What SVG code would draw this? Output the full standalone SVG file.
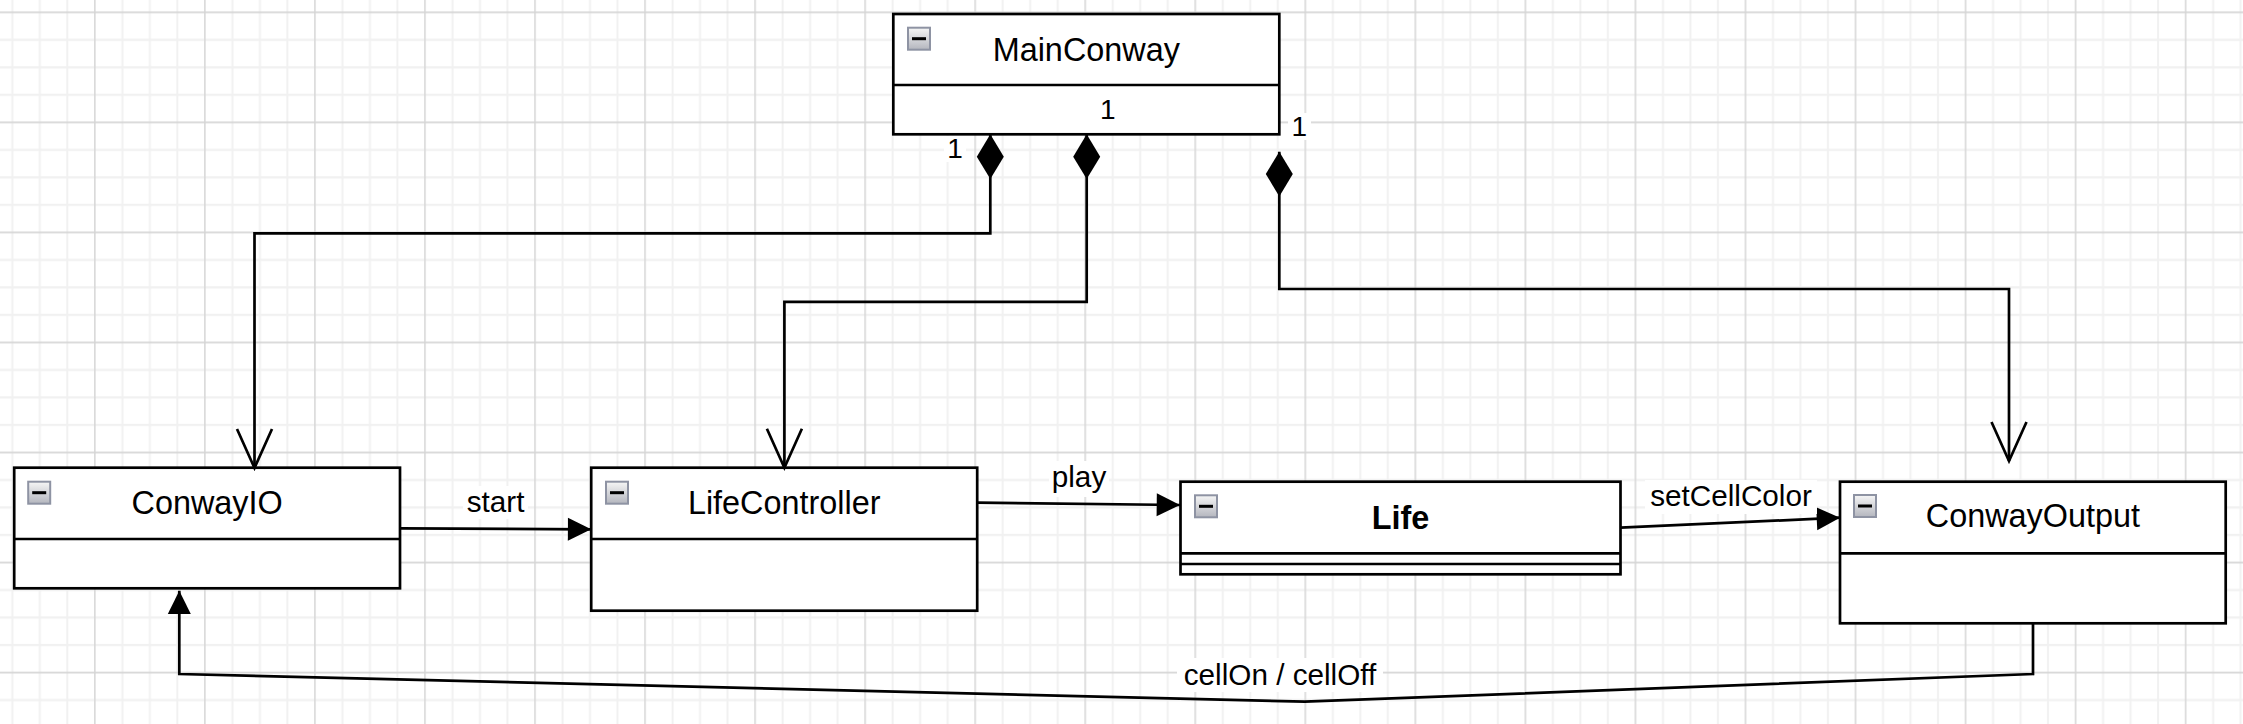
<svg xmlns="http://www.w3.org/2000/svg" width="2243" height="724" viewBox="0 0 2243 724">
<style>
.box{fill:#ffffff;stroke:#000000;stroke-width:2.7}
.div{stroke:#000000;stroke-width:2.7;fill:none}
.title{font-family:"Liberation Sans",Arial,Helvetica,sans-serif;font-size:32.4px;fill:#000000;text-anchor:middle}
.bold{font-weight:bold}
.lbl{font-family:"Liberation Sans",Arial,Helvetica,sans-serif;font-size:29.7px;fill:#000000;text-anchor:middle}
.mult{font-family:"Liberation Sans",Arial,Helvetica,sans-serif;font-size:28px;fill:#000000;text-anchor:middle}
.conn{fill:none;stroke:#000000;stroke-width:2.7}
.lblbg{fill:#ffffff}
</style>
<defs>
<pattern id="grid" patternUnits="userSpaceOnUse" x="81.105" y="-1.455" width="110.04" height="110.04">
<path d="M41.265 0V110.04M68.775 0V110.04M96.285 0V110.04M0 41.265H110.04M0 68.775H110.04M0 96.285H110.04" stroke="#f1f1f1" stroke-width="2"/>
<path d="M13.755 0V110.04M0 13.755H110.04" stroke="#d6d6d6" stroke-width="1.5"/>
</pattern>
<linearGradient id="iconGrad" x1="0" y1="0" x2="0" y2="1">
<stop offset="0" stop-color="#f6f6f6"/>
<stop offset="1" stop-color="#b4b6be"/>
</linearGradient>
<g id="icon">
<rect x="1" y="1" width="22" height="22" fill="url(#iconGrad)" stroke="#8e93a3" stroke-width="2"/>
<rect x="5" y="10.5" width="14" height="3" fill="#000000"/>
</g>
<marker id="diamond" markerUnits="userSpaceOnUse" orient="auto" refX="0" refY="13.5" markerWidth="46" markerHeight="27" overflow="visible">
<path d="M0 13.5 L22.35 0 L44.7 13.5 L22.35 27 Z" fill="#000000"/>
</marker>
<marker id="open" markerUnits="userSpaceOnUse" orient="auto" refX="40" refY="18" markerWidth="42" markerHeight="36" overflow="visible">
<path d="M1 0.5 L40 18 L1 35.5" fill="none" stroke="#000000" stroke-width="2.7"/>
</marker>
<marker id="filled" markerUnits="userSpaceOnUse" orient="auto" refX="23.3" refY="11.5" markerWidth="24" markerHeight="23" overflow="visible">
<path d="M0 0 L23.3 11.5 L0 23 Z" fill="#000000"/>
</marker>
</defs>
<rect x="0" y="0" width="2243" height="724" fill="#ffffff"/>
<rect x="0" y="0" width="2243" height="724" fill="url(#grid)"/>

<g id="MainConway">
<rect class="box" x="893.3" y="14" width="386" height="120.3"/>
<line class="div" x1="893.3" y1="85" x2="1279.3" y2="85"/>
<use href="#icon" x="907" y="26.7"/>
<text class="title" x="1086.3" y="61">MainConway</text>
</g>

<g id="ConwayIO">
<rect class="box" x="14.2" y="467.7" width="385.8" height="120.6"/>
<line class="div" x1="14.2" y1="539" x2="400" y2="539"/>
<use href="#icon" x="27.2" y="480.7"/>
<text class="title" x="207.1" y="514">ConwayIO</text>
</g>

<g id="LifeController">
<rect class="box" x="591.2" y="467.7" width="386" height="143"/>
<line class="div" x1="591.2" y1="539" x2="977.2" y2="539"/>
<use href="#icon" x="605" y="480.7"/>
<text class="title" x="784.2" y="514">LifeController</text>
</g>

<g id="Life">
<rect class="box" x="1180.5" y="481.7" width="440" height="92.6"/>
<line class="div" x1="1180.5" y1="553.3" x2="1620.5" y2="553.3"/>
<line class="div" x1="1180.5" y1="564" x2="1620.5" y2="564"/>
<use href="#icon" x="1194" y="494.3"/>
<text class="title bold" x="1400.5" y="529.3">Life</text>
</g>

<g id="ConwayOutput">
<rect class="box" x="1840" y="481.7" width="385.7" height="141.6"/>
<line class="div" x1="1840" y1="553.3" x2="2225.7" y2="553.3"/>
<use href="#icon" x="1853" y="494"/>
<text class="title" x="2032.9" y="527">ConwayOutput</text>
</g>

<g id="connectors">
<path class="conn" d="M990.3 134.3 V233.3 H254.5 V468" marker-start="url(#diamond)" marker-end="url(#open)"/>
<path class="conn" d="M1086.7 134.3 V301.8 H784.4 V467.7" marker-start="url(#diamond)" marker-end="url(#open)"/>
<path class="conn" d="M1279.3 151.7 V289 H2009 V461" marker-start="url(#diamond)" marker-end="url(#open)"/>
<path class="conn" d="M400 528.3 L591.2 529.3" marker-end="url(#filled)"/>
<path class="conn" d="M977.2 502.7 L1180 505" marker-end="url(#filled)"/>
<path class="conn" d="M1620.5 527.7 L1840 517.7" marker-end="url(#filled)"/>
<path class="conn" d="M2033 623.3 V674 L1304.7 701.7 L179.3 674 V590.7" marker-end="url(#filled)"/>
<rect class="lblbg" x="944" y="136" width="22" height="26"/>
<text class="mult" x="955" y="157.7">1</text>
<rect class="lblbg" x="1097" y="96" width="22" height="28"/>
<text class="mult" x="1107.7" y="119">1</text>
<rect class="lblbg" x="1288" y="113" width="23" height="27"/>
<text class="mult" x="1299.3" y="135.7">1</text>
<rect class="lblbg" x="463" y="486" width="65" height="33"/>
<text class="lbl" x="495.6" y="511.7">start</text>
<rect class="lblbg" x="1049" y="461" width="60" height="36"/>
<text class="lbl" x="1079" y="487">play</text>
<rect class="lblbg" x="1645" y="480" width="172" height="34"/>
<text class="lbl" x="1731" y="505.7">setCellColor</text>
<rect class="lblbg" x="1177" y="658" width="206" height="34"/>
<text class="lbl" x="1280" y="685">cellOn / cellOff</text>
</g>
</svg>
